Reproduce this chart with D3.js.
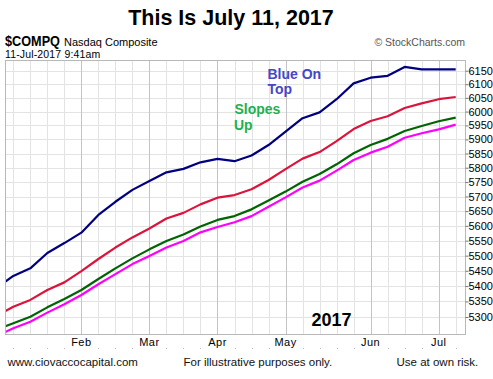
<!DOCTYPE html>
<html><head><meta charset="utf-8">
<script src="https://cdn.jsdelivr.net/npm/d3@7/dist/d3.min.js"></script>
<style>
html,body{margin:0;padding:0;background:#fff;}
svg{display:block;font-family:"Liberation Sans",Arial,sans-serif;}
</style></head>
<body>
<svg id="chart" width="493" height="379"></svg>
<script>
// ---- data (weekly, index -1 = last week of 2016) ----
const weeks = [-1,0,1,2,3,4,5,6,7,8,9,10,11,12,13,14,15,16,17,18,19,20,21,22,23,24,25,26];
const blueOnTop = [5393,5433,5458,5509,5542,5577,5637,5682,5723,5754,5784,5796,5819,5831,5823,5843,5880,5928,5976,5997,6045,6103,6124,6131,6164,6155,6155,6155];
const redLine   = [5303,5333,5355,5387,5412,5449,5489,5527,5561,5591,5625,5644,5673,5696,5705,5725,5757,5795,5832,5855,5894,5937,5966,5983,6013,6030,6045,6053];
const greenLine = [5260,5280,5301,5331,5358,5387,5423,5458,5491,5521,5549,5571,5598,5620,5633,5656,5686,5717,5751,5778,5812,5851,5880,5902,5930,5948,5965,5978];
const magentaLine=[5239,5264,5285,5314,5341,5371,5406,5439,5472,5499,5527,5549,5578,5596,5612,5633,5665,5697,5731,5755,5790,5827,5853,5874,5906,5922,5936,5953];
const monthLabels = ["Feb","Mar","Apr","May","Jun","Jul"];
const monthWeeks  = [4,8,12,16,21,25];
const yTicks = [5300,5350,5400,5450,5500,5550,5600,5650,5700,5750,5800,5850,5900,5950,6000,6050,6100,6150];
const seriesList = [
  {name:"magenta", values:magentaLine, color:"#ff00ff"},
  {name:"green", values:greenLine, color:"#006400"},
  {name:"red", values:redLine, color:"#dc143c"},
  {name:"blue", values:blueOnTop, color:"#000080"}
];

// ---- layout ----
const plot = {left:5.5, top:60.5, right:465.5, bottom:334.5};
const svg = d3.select("#chart");

const x = d3.scaleLinear().domain([0,26]).range([13.3,455.7]);
const y = d3.scaleLog().domain([5300,6150]).range([317,70.7]);

svg.append("rect").attr("x",plot.left).attr("y",plot.top)
  .attr("width",plot.right-plot.left).attr("height",plot.bottom-plot.top)
  .attr("fill","#fff");

// horizontal grid
svg.append("g").selectAll("line").data(yTicks).join("line")
  .attr("x1",plot.left).attr("x2",plot.right)
  .attr("y1",d=>Math.round(y(d))+0.5).attr("y2",d=>Math.round(y(d))+0.5)
  .attr("stroke","#e3e3e3").attr("stroke-width",1);

// vertical weekly grid
const gridWeeks = weeks.filter(w=>w>=0);
svg.append("g").selectAll("line").data(gridWeeks).join("line")
  .attr("x1",d=>Math.round(x(d))+0.5).attr("x2",d=>Math.round(x(d))+0.5)
  .attr("y1",plot.top).attr("y2",plot.bottom)
  .attr("stroke",d=>monthWeeks.includes(d)?"#c4c4c4":"#e3e3e3").attr("stroke-width",1);

svg.append("clipPath").attr("id","clip").append("rect")
  .attr("x",plot.left).attr("y",plot.top)
  .attr("width",plot.right-plot.left).attr("height",plot.bottom-plot.top);

const line = d3.line().x((d,i)=>x(weeks[i])).y(d=>y(d));
svg.append("g").attr("clip-path","url(#clip)").selectAll("path").data(seriesList).join("path")
  .attr("d",d=>line(d.values))
  .attr("fill","none").attr("stroke",d=>d.color).attr("stroke-width",2.2)
  .attr("stroke-linejoin","round");

svg.append("rect").attr("x",plot.left).attr("y",plot.top)
  .attr("width",plot.right-plot.left).attr("height",plot.bottom-plot.top)
  .attr("fill","none").attr("stroke","#b8b8b8").attr("stroke-width",1);

// y axis (right)
const yAxis = d3.axisRight(y).tickValues(yTicks).tickSize(3).tickPadding(0)
  .tickFormat(d3.format("d"));
const gy = svg.append("g").attr("transform",`translate(${plot.right},0)`).call(yAxis);
gy.select(".domain").remove();
gy.selectAll(".tick line").attr("stroke","#777");
gy.selectAll(".tick text").attr("font-size","11px").attr("fill","#000")
  .attr("font-family","'Liberation Sans',Arial,sans-serif");

// x axis month labels
svg.append("g").selectAll("text").data(monthLabels).join("text")
  .attr("x",(d,i)=>x(monthWeeks[i])).attr("y",346)
  .attr("text-anchor","middle").attr("font-size","11px").attr("fill","#000")
  .attr("letter-spacing","0.5px").text(d=>d);
svg.append("g").selectAll("rect").data(gridWeeks.filter(w=>!monthWeeks.includes(w))).join("rect")
  .attr("x",d=>Math.round(x(d))).attr("y",348).attr("width",1).attr("height",1)
  .attr("fill","#bbb");

// titles
svg.append("text").attr("x",231).attr("y",25).attr("text-anchor","middle")
  .attr("font-size","21.5px").attr("font-weight","bold").attr("fill","#000")
  .text("This Is July 11, 2017");
svg.append("text").attr("x",5).attr("y",46).attr("font-size","14px").attr("font-weight","bold")
  .attr("fill","#000").attr("textLength",55).attr("lengthAdjust","spacingAndGlyphs").text("$COMPQ");
svg.append("text").attr("x",64).attr("y",46).attr("font-size","11px").attr("fill","#000")
  .text("Nasdaq Composite");
svg.append("text").attr("x",5).attr("y",57.5).attr("font-size","10.5px").attr("fill","#000")
  .attr("letter-spacing","0.15px").text("11-Jul-2017 9:41am");
svg.append("text").attr("x",465).attr("y",45.5).attr("text-anchor","end").attr("font-size","10.5px")
  .attr("fill","#555").text("© StockCharts.com");

// annotations
const ann = svg.append("g").attr("font-size","14px").attr("font-weight","bold");
ann.append("text").attr("x",267.5).attr("y",78.5).attr("fill","#4646c8").text("Blue On");
ann.append("text").attr("x",267.5).attr("y",94).attr("fill","#4646c8").text("Top");
ann.append("text").attr("x",234.5).attr("y",114).attr("fill","#22b04e").text("Slopes");
ann.append("text").attr("x",234).attr("y",129.5).attr("fill","#22b04e").text("Up");
svg.append("text").attr("x",311.5).attr("y",326).attr("font-size","18px").attr("font-weight","bold")
  .attr("fill","#000").text("2017");

// footer
const foot = svg.append("g").attr("font-size","11.5px").attr("fill","#111");
foot.append("text").attr("x",7.5).attr("y",366).text("www.ciovaccocapital.com");
foot.append("text").attr("x",183.5).attr("y",366).text("For illustrative purposes only.");
foot.append("text").attr("x",396.5).attr("y",366).text("Use at own risk.");
</script>
</body></html>
